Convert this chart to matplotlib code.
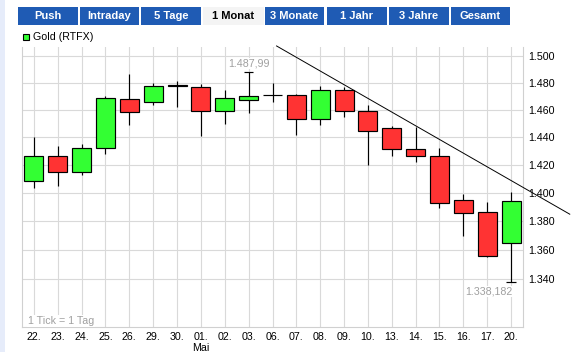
import matplotlib
matplotlib.use("Agg")
import matplotlib.pyplot as plt
from matplotlib.patches import Rectangle
from matplotlib.ticker import FixedLocator, FixedFormatter, NullLocator

# ---------------- data ----------------
dates = ["22.", "23.", "24.", "25.", "26.", "29.", "30.", "01.\nMai", "02.", "03.", "06.",
         "07.", "08.", "09.", "10.", "13.", "14.", "15.", "16.", "17.", "20."]
opens = [1408.0, 1426.5, 1414.5, 1431.8, 1467.8, 1465.6, 1478.0, 1476.6, 1459.0, 1467.1, 1471.0,
         1471.0, 1452.8, 1474.4, 1458.8, 1446.4, 1431.2, 1426.1, 1395.1, 1386.6, 1365.1]
highs = [1440.0, 1433.5, 1434.9, 1470.3, 1486.6, 1479.8, 1481.0, 1479.0, 1474.7, 1487.99, 1479.8,
         1471.5, 1477.6, 1477.1, 1463.7, 1448.1, 1447.6, 1432.3, 1398.8, 1393.2, 1400.2]
lows = [1403.3, 1404.8, 1412.8, 1427.5, 1448.4, 1463.1, 1461.8, 1441.0, 1449.4, 1457.6, 1465.5,
        1441.7, 1448.9, 1454.6, 1420.0, 1426.5, 1422.2, 1389.2, 1369.5, 1355.0, 1338.182]
closes = [1426.5, 1414.5, 1431.8, 1468.6, 1458.3, 1477.4, 1477.6, 1459.0, 1468.6, 1470.0, 1471.0,
          1453.1, 1474.4, 1459.0, 1444.2, 1431.1, 1426.1, 1393.0, 1385.9, 1356.0, 1394.4]
ytick_values = [1340, 1360, 1380, 1400, 1420, 1440, 1460, 1480, 1500]
ytick_labels = ["1.340", "1.360", "1.380", "1.400", "1.420", "1.440", "1.460", "1.480", "1.500"]
trend_x = [10.17, 22.46]
trend_y = [1507.8, 1384.8]
high_label = "1.487,99"
low_label = "1.338,182"
buttons = ["Push", "Intraday", "5 Tage", "1 Monat", "3 Monate", "1 Jahr", "3 Jahre", "Gesamt"]
active_button = "1 Monat"
series_name = "Gold (RTFX)"

# ---------------- figure ----------------
W, H = 578, 352
fig = plt.figure(figsize=(W / 100, H / 100), dpi=100)
fig.patch.set_facecolor("white")
FONT = "Liberation Sans"
plt.rcParams["font.family"] = [FONT, "DejaVu Sans"]

def fx(px):
    return px / W

def fy(py):
    return 1 - py / H

# left light strip
fig.patches.append(Rectangle((0, 0), fx(5), 1, transform=fig.transFigure,
                             facecolor="#e6ecfa", edgecolor="none", zorder=0))

# tab buttons
btn_edges = [(18, 77.5), (80, 139), (141, 201), (202.5, 263.5), (265, 324),
             (326.5, 387), (389, 448.5), (450.5, 510)]
for label, (x0, x1) in zip(buttons, btn_edges):
    active = label == active_button
    fig.patches.append(Rectangle((fx(x0), fy(25)), fx(x1 - x0), 18 / H,
                                 transform=fig.transFigure,
                                 facecolor="#f4f4f4" if active else "#1f5bb4",
                                 edgecolor="none", zorder=1))
    fig.text(fx((x0 + x1) / 2), fy(16), label, ha="center", va="center",
             fontsize=8, fontweight="bold", color="black" if active else "white",
             family=FONT)

# legend
fig.patches.append(Rectangle((fx(23), fy(40)), fx(6), 6 / H, transform=fig.transFigure,
                             facecolor="#33ff33", edgecolor="black", linewidth=0.8, zorder=2))
fig.text(fx(33), fy(37.5), series_name, ha="left", va="center", fontsize=7.7,
         color="black", family=FONT)

# axes
ax = fig.add_axes([fx(22), fy(327), fx(523 - 22), (327 - 47) / H])
ax.set_facecolor("white")
ax.set_yscale("log")
ax.set_ylim(1308, 1507)
ax.set_xlim(-0.5, 20.5)
ax.set_axisbelow(True)

x = list(range(len(dates)))
body_bottom = [min(o, c) for o, c in zip(opens, closes)]
body_height = [abs(c - o) for o, c in zip(opens, closes)]
colors = ["#33ff33" if c >= o else "#ff3333" for o, c in zip(opens, closes)]

ax.vlines(x, lows, highs, color="black", linewidth=0.85, zorder=2)
ax.bar(x, body_height, bottom=body_bottom, width=0.8, color=colors,
       edgecolor="black", linewidth=0.85, zorder=3)
# low tick mark on last candle
ax.hlines([lows[-1]], [x[-1] - 0.2], [x[-1] + 0.2], color="black", linewidth=0.85, zorder=2)
ax.hlines([highs[9]], [9 - 0.2], [9 + 0.2], color="black", linewidth=0.85, zorder=2)

# trend line
ax.plot(trend_x, trend_y, color="black", linewidth=0.7, clip_on=False, zorder=4)

# ticks
ax.xaxis.set_major_locator(FixedLocator(x))
ax.xaxis.set_major_formatter(FixedFormatter(dates))
ax.yaxis.set_major_locator(FixedLocator(ytick_values))
ax.yaxis.set_major_formatter(FixedFormatter(ytick_labels))
ax.yaxis.set_minor_locator(NullLocator())
ax.yaxis.tick_right()
ax.tick_params(axis="both", length=0, labelsize=7.7, colors="black")
ax.tick_params(axis="y", pad=4)
ax.tick_params(axis="x", pad=3.5)
for lab in ax.get_xticklabels() + ax.get_yticklabels():
    lab.set_family(FONT)
    lab.set_linespacing(1.15)

ax.grid(True, color="#d9d9d9", linewidth=0.8)
for side in ["left", "right", "bottom"]:
    ax.spines[side].set_color("#d0d0d0")
    ax.spines[side].set_linewidth(0.8)
ax.spines["top"].set_visible(False)

# annotations
ax.annotate(high_label, xy=(9, highs[9]), xytext=(0, 2.5), textcoords="offset points",
            ha="center", va="bottom", fontsize=7.7, color="#a0a0a0", family=FONT,
            bbox=dict(facecolor="white", edgecolor="none", pad=0.5), zorder=5)
ax.annotate(low_label, xy=(20, lows[20]), xytext=(1, -3.5), textcoords="offset points",
            ha="right", va="top", fontsize=7.7, color="#a0a0a0", family=FONT,
            bbox=dict(facecolor="white", edgecolor="none", pad=0.5), zorder=5)
ax.text(fx(28) , 0, "", transform=ax.transAxes)
fig.text(fx(28), fy(321), "1 Tick = 1 Tag", ha="left", va="center", fontsize=7.7,
         color="#a0a0a0", family=FONT,
         bbox=dict(facecolor="white", edgecolor="none", pad=0.5), zorder=5)

fig.savefig("out.png", dpi=100)
